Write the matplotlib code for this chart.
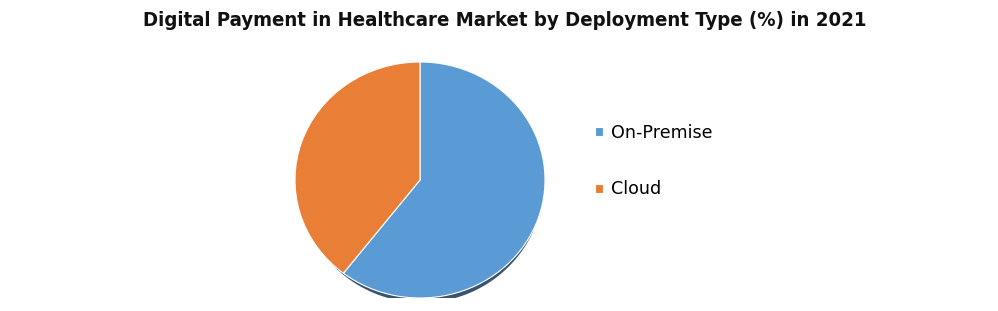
import matplotlib
matplotlib.use("Agg")
import matplotlib.pyplot as plt
from matplotlib.patches import Polygon
import numpy as np

title = "Digital Payment in Healthcare Market by Deployment Type (%) in 2021"
labels = ["On-Premise", "Cloud"]
values = [60.5, 39.5]
colors = ["#5B9BD5", "#E97F36"]

W, H = 998, 311
fig = plt.figure(figsize=(W / 100, H / 100), dpi=100)
fig.patch.set_facecolor("white")

cx, cy, rx, ry = 420, 180, 125, 118
ax = fig.add_axes([(cx - rx) / W, (H - cy - ry) / H, 2 * rx / W, 2 * ry / H])

# soft shadow under the lower rim
th = np.radians(np.linspace(222, 335, 120))
depth = 0.04 * np.sin(np.pi * (th - th[0]) / (th[-1] - th[0])) ** 0.7
outer = np.column_stack([np.cos(th) + 0.004, np.sin(th) - depth])
inner = np.column_stack([np.cos(th), np.sin(th)])[::-1]
ax.add_patch(Polygon(np.vstack([outer, inner]), closed=True,
                     facecolor="#3A5470", edgecolor="none", zorder=0))

wedges, _ = ax.pie(values, colors=colors, startangle=90, counterclock=False,
                   radius=1.0, wedgeprops=dict(edgecolor="white", linewidth=0.8))
for w in wedges:
    w.set_zorder(2)
ax.set_aspect("auto")
ax.set_xlim(-1.0, 1.0)
ax.set_ylim(-1.0, 1.0)
ax.axis("off")

fig.text(505 / W, 1 - 20 / H, title, ha="center", va="center",
         fontsize=14.6, fontweight="bold", fontstretch="condensed",
         family=["DejaVu Sans"], color="#111111")

fig.legend(wedges, labels, loc="upper left", bbox_to_anchor=(595 / W, 1 - 124 / H),
           frameon=False, handlelength=0.43, handleheight=0.43,
           handletextpad=0.47, labelspacing=2.2, borderaxespad=0, borderpad=0,
           prop=dict(family=["DejaVu Sans"], size=12.6))

fig.savefig("out.png", dpi=100, facecolor="white")
